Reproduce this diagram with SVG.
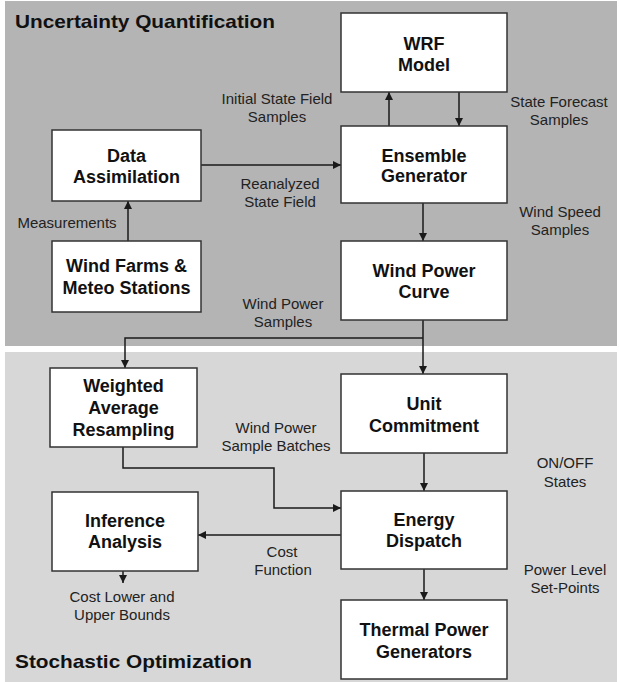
<svg xmlns="http://www.w3.org/2000/svg" width="619" height="682" viewBox="0 0 619 682">
<defs>
<marker id="ah" viewBox="0 0 10 10" refX="10" refY="5" markerWidth="8" markerHeight="8" markerUnits="userSpaceOnUse" orient="auto">
<path d="M0,0 L10,5 L0,10 z" fill="#1a1a1a"/>
</marker>
<style>
.box{fill:#fff;stroke:#333;stroke-width:1.5}
.b{font-family:"Liberation Sans",Arial,sans-serif;font-weight:bold;font-size:18px;fill:#111;text-anchor:middle}
.t{font-family:"Liberation Sans",Arial,sans-serif;font-weight:bold;font-size:19px;fill:#111}
.l{font-family:"Liberation Sans",Arial,sans-serif;font-size:15px;fill:#222;text-anchor:middle}
.c{fill:none;stroke:#1a1a1a;stroke-width:1.5}
.ca{fill:none;stroke:#1a1a1a;stroke-width:1.5;marker-end:url(#ah)}
</style>
</defs>
<rect x="0" y="0" width="619" height="682" fill="#fff"/>
<rect x="5" y="1" width="612" height="345" fill="#b4b4b4"/>
<rect x="5" y="352" width="612" height="330" fill="#d7d7d7"/>
<text class="t" x="15" y="28" textLength="260" lengthAdjust="spacingAndGlyphs">Uncertainty Quantification</text>
<text class="t" x="15" y="668" textLength="237" lengthAdjust="spacingAndGlyphs">Stochastic Optimization</text>

<g id="connectors">
<line class="ca" x1="389" y1="126" x2="389" y2="92"/>
<line class="ca" x1="459" y1="92" x2="459" y2="126"/>
<line class="ca" x1="201" y1="165" x2="341" y2="165"/>
<line class="ca" x1="128" y1="241" x2="128" y2="201"/>
<line class="ca" x1="423" y1="203" x2="423" y2="241"/>
<line class="ca" x1="423" y1="320" x2="423" y2="374"/>
<polyline class="ca" points="423,338 125,338 125,368"/>
<polyline class="ca" points="123,447 123,468 274,468 274,508 341,508"/>
<line class="ca" x1="341" y1="535" x2="198" y2="535"/>
<line class="ca" x1="123" y1="571" x2="123" y2="583"/>
<line class="ca" x1="424" y1="453" x2="424" y2="491"/>
<line class="ca" x1="424" y1="569" x2="424" y2="600"/>
</g>

<g id="labels">
<text class="l" x="277" y="104">Initial State Field</text>
<text class="l" x="277" y="122">Samples</text>
<text class="l" x="559" y="107">State Forecast</text>
<text class="l" x="559" y="125">Samples</text>
<text class="l" x="280" y="189">Reanalyzed</text>
<text class="l" x="280" y="207">State Field</text>
<text class="l" x="67" y="228">Measurements</text>
<text class="l" x="560" y="217">Wind Speed</text>
<text class="l" x="560" y="235">Samples</text>
<text class="l" x="283" y="309">Wind Power</text>
<text class="l" x="283" y="327">Samples</text>
<text class="l" x="276" y="433">Wind Power</text>
<text class="l" x="276" y="451">Sample Batches</text>
<text class="l" x="565" y="468">ON/OFF</text>
<text class="l" x="565" y="487">States</text>
<text class="l" x="282" y="557">Cost</text>
<text class="l" x="283" y="575">Function</text>
<text class="l" x="122" y="602">Cost Lower and</text>
<text class="l" x="122" y="620">Upper Bounds</text>
<text class="l" x="565" y="575">Power Level</text>
<text class="l" x="565" y="593">Set-Points</text>
</g>

<g id="wrf"><rect class="box" x="341" y="13" width="166" height="79"/>
<text class="b" x="424" y="50">WRF</text><text class="b" x="424" y="71">Model</text></g>
<g id="ensemble"><rect class="box" x="341" y="126" width="166" height="77"/>
<text class="b" x="424" y="162">Ensemble</text><text class="b" x="424" y="182">Generator</text></g>
<g id="assimilation"><rect class="box" x="52" y="130" width="149" height="71"/>
<text class="b" x="126.5" y="162">Data</text><text class="b" x="126.5" y="183">Assimilation</text></g>
<g id="windfarms"><rect class="box" x="52" y="241" width="149" height="71"/>
<text class="b" x="126.5" y="272">Wind Farms &amp;</text><text class="b" x="126.5" y="294">Meteo Stations</text></g>
<g id="powercurve"><rect class="box" x="341" y="241" width="166" height="79"/>
<text class="b" x="424" y="277">Wind Power</text><text class="b" x="424" y="298">Curve</text></g>
<g id="resampling"><rect class="box" x="50" y="368" width="147" height="79"/>
<text class="b" x="123.5" y="392">Weighted</text><text class="b" x="123.5" y="414">Average</text><text class="b" x="123.5" y="436">Resampling</text></g>
<g id="unitcommitment"><rect class="box" x="341" y="374" width="166" height="79"/>
<text class="b" x="424" y="410">Unit</text><text class="b" x="424" y="432">Commitment</text></g>
<g id="inference"><rect class="box" x="52" y="492" width="146" height="79"/>
<text class="b" x="125" y="527">Inference</text><text class="b" x="125" y="548">Analysis</text></g>
<g id="dispatch"><rect class="box" x="341" y="491" width="166" height="78"/>
<text class="b" x="424" y="526">Energy</text><text class="b" x="424" y="547">Dispatch</text></g>
<g id="thermal"><rect class="box" x="341" y="600" width="166" height="79"/>
<text class="b" x="424" y="636">Thermal Power</text><text class="b" x="424" y="658">Generators</text></g>
</svg>
